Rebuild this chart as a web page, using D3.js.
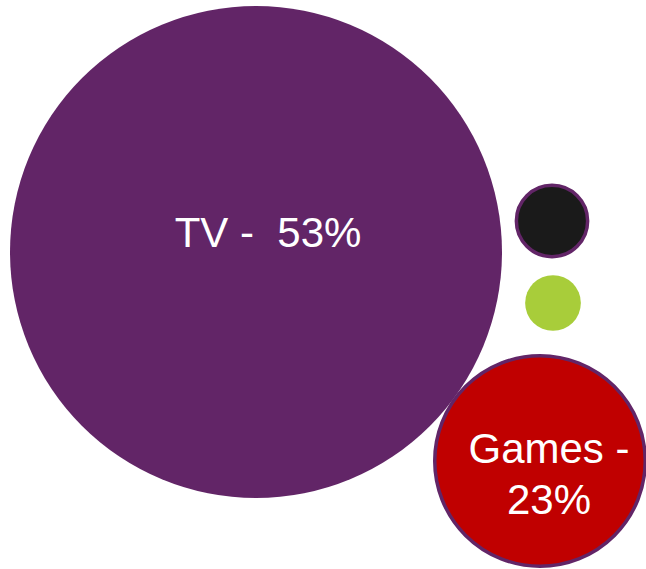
<!DOCTYPE html>
<html>
<head>
<meta charset="utf-8">
<script src="https://cdn.jsdelivr.net/npm/d3@7"></script>
<style>
	html, body { margin: 0; padding: 0; background: #fff; }
	svg { display: block; }
</style>
</head>
<body>
<svg id="chart" width="646" height="569"></svg>
<script>
// share of time by category (only the two big ones are labelled)
var categories = ["TV", "Other A", "Other B", "Games"];
var values = [53, 8, 6, 23];
var showLabel = [true, false, false, true];

var colors = ["#622567", "#1a1a1a", "#a8cd3a", "#c00000"];
var outline = [false, true, false, true];

// where each bubble sits in the picture
var anchors = [
	{cx: 256, cy: 252},
	{cx: 552, cy: 221},
	{cx: 553, cy: 303},
	{cx: 540, cy: 461}
];
// label nudges from the bubble centre
var labelOffsets = [
	{dx: 12, dy: -5},
	{dx: 0, dy: 0},
	{dx: 0, dy: 0},
	{dx: 9, dy: 13}
];

var svg = d3.select("#chart");

// radius grows with the value
var rScale = d3.scaleLinear()
	.domain([0, d3.max(values)])
	.range([0, 246]);

var nodes = categories.map(function(c, i){
	return {
		name: c,
		value: values[i],
		color: colors[i],
		stroke: outline[i],
		label: showLabel[i],
		x: anchors[i].cx,
		y: anchors[i].cy,
		off: labelOffsets[i]
	};
});

var g = svg.append("g");

g.selectAll("circle")
	.data(nodes)
	.enter().append("circle")
	.attr("cx", function(d){ return d.x; })
	.attr("cy", function(d){ return d.y; })
	.attr("r", function(d){ return rScale(d.value) - (d.stroke ? 1.5 : 0); })
	.style("fill", function(d){ return d.color; })
	.style("stroke", function(d){ return d.stroke ? "#622567" : "none"; })
	.style("stroke-width", 3.5);

// labels: wrap onto two lines when the bubble is narrow
var labels = g.selectAll("text.lbl")
	.data(nodes.filter(function(d){ return d.label; }))
	.enter().append("text")
	.attr("class", "lbl")
	.attr("text-anchor", "middle")
	.attr("font-family", "Liberation Sans, Arial, sans-serif")
	.attr("font-size", "42px")
	.style("fill", "#ffffff")
	.attr("transform", function(d){
		return "translate(" + (d.x + d.off.dx) + "," + (d.y + d.off.dy) + ")";
	});

labels.each(function(d){
	var t = d3.select(this);
	var lines = rScale(d.value) > 150
		? [d.name + " -\u00a0\u00a0" + d.value + "%"]
		: [d.name + " -", d.value + "%"];
	var lineH = 51;
	var startY = lines.length == 1 ? 0 : -lineH / 2 + 14;
	lines.forEach(function(s, i){
		t.append("tspan")
			.attr("x", 0)
			.attr("y", startY + i * lineH)
			.text(s);
	});
});
</script>
</body>
</html>
